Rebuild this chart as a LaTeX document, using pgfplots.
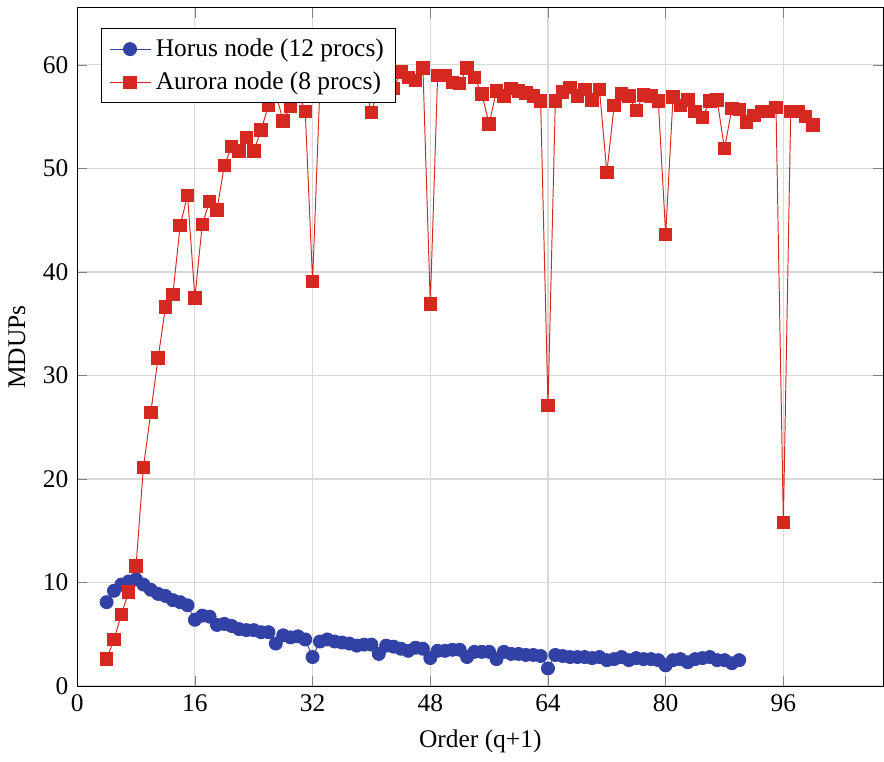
\documentclass[border=0pt]{standalone}
\usepackage{fontspec}
\setmainfont{Liberation Serif}
\usepackage{pgfplots}
\pgfplotsset{compat=1.18}
\definecolor{hblue}{RGB}{50,65,165}
\definecolor{ared}{RGB}{212,40,32}
\begin{document}
\fontsize{10.6pt}{12.8pt}\selectfont
\begin{tikzpicture}
\begin{axis}[
  scale only axis,
  width=336pt, height=282.6pt,
  xmin=0, xmax=109.6, ymin=0, ymax=65.5,
  xtick={0,16,32,48,64,80,96},
  ytick={0,10,20,30,40,50,60},
  grid=major,
  grid style={gray!30, line width=0.5pt},
  xlabel={Order (q+1)},
  ylabel={MDUPs},
  /pgf/number format/assume math mode=true,
  legend pos=north west,
  legend cell align=left,
  legend style={draw=black, row sep=1pt},
]
\addplot[color=hblue, line width=0.4pt, mark=*, mark size=2.7pt, mark options={fill=hblue, draw=hblue}] coordinates {
(4,8.1)(5,9.2)(6,9.8)(7,10.1)(8,10.3)(9,9.8)(10,9.3)(11,8.9)(12,8.7)(13,8.3)(14,8.1)(15,7.8)
(16,6.4)(17,6.8)(18,6.7)(19,5.9)(20,6.0)(21,5.8)(22,5.5)(23,5.4)(24,5.4)(25,5.2)(26,5.2)(27,4.1)
(28,4.9)(29,4.7)(30,4.8)(31,4.5)(32,2.8)(33,4.3)(34,4.5)(35,4.3)(36,4.2)(37,4.1)(38,3.9)(39,4.0)
(40,4.0)(41,3.1)(42,3.9)(43,3.8)(44,3.6)(45,3.4)(46,3.7)(47,3.6)(48,2.7)(49,3.4)(50,3.4)(51,3.5)
(52,3.5)(53,2.8)(54,3.3)(55,3.3)(56,3.3)(57,2.6)(58,3.3)(59,3.1)(60,3.1)(61,3.0)(62,3.0)(63,2.9)
(64,1.7)(65,3.0)(66,2.9)(67,2.8)(68,2.8)(69,2.8)(70,2.7)(71,2.8)(72,2.5)(73,2.6)(74,2.8)(75,2.5)
(76,2.7)(77,2.6)(78,2.6)(79,2.5)(80,2.0)(81,2.5)(82,2.6)(83,2.3)(84,2.6)(85,2.7)(86,2.8)(87,2.5)
(88,2.5)(89,2.2)(90,2.5)
};
\addlegendentry{Horus node (12 procs)}
\addplot[color=ared, line width=0.4pt, mark=square*, mark size=2.6pt, mark options={fill=ared, draw=ared}] coordinates {
(4,2.6)(5,4.5)(6,6.9)(7,9.1)(8,11.6)(9,21.1)(10,26.4)(11,31.7)(12,36.6)(13,37.8)(14,44.5)(15,47.4)
(16,37.5)(17,44.6)(18,46.8)(19,46.0)(20,50.3)(21,52.1)(22,51.7)(23,53.0)(24,51.7)(25,53.7)(26,56.1)
(27,57.2)(28,54.6)(29,56.0)(30,57.5)(31,55.5)(32,39.1)(33,58.0)(34,58.5)(35,58.2)(36,58.8)(37,58.4)
(38,58.9)(39,58.3)(40,55.4)(41,57.9)(42,58.6)(43,57.7)(44,59.3)(45,58.8)(46,58.5)(47,59.7)(48,36.9)
(49,59.0)(50,59.0)(51,58.3)(52,58.2)(53,59.7)(54,58.8)(55,57.2)(56,54.3)(57,57.5)(58,57.0)(59,57.7)
(60,57.5)(61,57.3)(62,57.0)(63,56.5)(64,27.1)(65,56.5)(66,57.4)(67,57.8)(68,57.0)(69,57.6)(70,56.6)
(71,57.6)(72,49.6)(73,56.1)(74,57.2)(75,57.0)(76,55.6)(77,57.1)(78,57.0)(79,56.5)(80,43.6)(81,56.9)
(82,56.1)(83,56.6)(84,55.5)(85,54.9)(86,56.5)(87,56.6)(88,51.9)(89,55.8)(90,55.7)(91,54.5)(92,55.1)
(93,55.5)(94,55.5)(95,55.9)(96,15.8)(97,55.5)(98,55.5)(99,55.0)(100,54.2)
};
\addlegendentry{Aurora node (8 procs)}
\end{axis}
\draw[draw=none] ([yshift=3.3pt]current axis.north) -- ++(0,0.01pt);
\end{tikzpicture}
\end{document}
